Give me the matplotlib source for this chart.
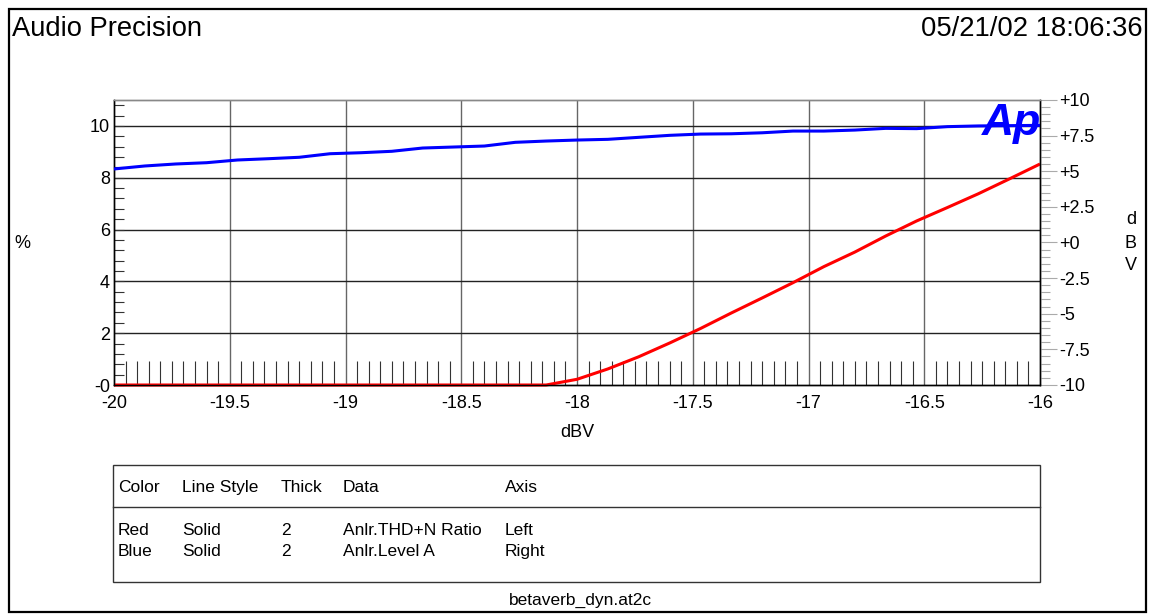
import matplotlib
matplotlib.use("Agg")
import matplotlib.pyplot as plt
from matplotlib.ticker import MultipleLocator, FixedLocator
from matplotlib.patches import Rectangle
from matplotlib.lines import Line2D

plt.rcParams['font.family'] = ['Liberation Sans', 'DejaVu Sans']

# ---- data ----
sweep_dbv = [-20.0, -19.8667, -19.7333, -19.6, -19.4667, -19.3333, -19.2, -19.0667,
             -18.9333, -18.8, -18.6667, -18.5333, -18.4, -18.2667, -18.1333, -18.0,
             -17.8667, -17.7333, -17.6, -17.4667, -17.3333, -17.2, -17.0667, -16.9333,
             -16.8, -16.6667, -16.5333, -16.4, -16.2667, -16.1333, -16.0]
thdn_pct = [0, 0, 0, 0, 0, 0, 0, 0, 0, 0, 0, 0, 0, 0, 0, 0.22,
            0.62, 1.09, 1.62, 2.18, 2.78, 3.36, 3.95, 4.57, 5.13, 5.75, 6.33, 6.85,
            7.38, 7.95, 8.53]
level_dbv = [5.16, 5.37, 5.51, 5.60, 5.79, 5.88, 5.98, 6.23, 6.30, 6.40, 6.63, 6.70,
             6.77, 7.03, 7.12, 7.19, 7.24, 7.38, 7.52, 7.61, 7.63, 7.70, 7.82, 7.82,
             7.89, 8.01, 7.99, 8.13, 8.18, 8.20, 8.22]

x_ticks = [-20, -19.5, -19, -18.5, -18, -17.5, -17, -16.5, -16]
x_labels = ["-20", "-19.5", "-19", "-18.5", "-18", "-17.5", "-17", "-16.5", "-16"]
left_ticks = [0, 2, 4, 6, 8, 10]
left_labels = ["-0", "2", "4", "6", "8", "10"]
right_ticks = [-10, -7.5, -5, -2.5, 0, 2.5, 5, 7.5, 10]
right_labels = ["-10", "-7.5", "-5", "-2.5", "+0", "+2.5", "+5", "+7.5", "+10"]

legend_header = ["Color", "Line Style", "Thick", "Data", "Axis"]
legend_rows = [["Red", "Solid", "2", "Anlr.THD+N Ratio", "Left"],
               ["Blue", "Solid", "2", "Anlr.Level A", "Right"]]

W, H = 1149, 614
fig = plt.figure(figsize=(W / 100, H / 100), dpi=100)

def fx(px):
    return px / W

def fy(py):
    return 1 - py / H

TICK_FS = 13
TXT_FS = 12.5

L, R, T, B = 114, 1040, 100, 385
ax = fig.add_axes([fx(L), fy(B), fx(R) - fx(L), fy(T) - fy(B)])
ax2 = ax.twinx()

ax.set_xlim(-20, -16)
ax.set_ylim(0, 11)
ax2.set_ylim(-10, 10)

# grid
for xv in x_ticks[1:-1]:
    ax.axvline(xv, color='#666666', lw=1.0, zorder=1)
for yv in left_ticks[1:]:
    ax.axhline(yv, color='#222222', lw=1.0, zorder=1)

# ticks - x
ax.xaxis.set_major_locator(FixedLocator(x_ticks))
ax.set_xticklabels(x_labels)
ax.xaxis.set_minor_locator(MultipleLocator(0.05))
ax.tick_params(axis='x', which='major', length=0, pad=7, labelsize=TICK_FS)
ax.tick_params(axis='x', which='minor', direction='in', length=17.5, width=0.8, color='#333333')
ax.tick_params(axis='x', top=False, which='both')

# ticks - left y
ax.yaxis.set_major_locator(FixedLocator(left_ticks))
ax.set_yticklabels(left_labels)
ax.yaxis.set_minor_locator(MultipleLocator(0.4))
ax.tick_params(axis='y', which='both', direction='in', length=7, width=0.8,
               color='#333333', pad=3, labelsize=TICK_FS)
ax.tick_params(axis='y', right=False, which='both')

# ticks - right y
ax2.yaxis.set_major_locator(FixedLocator(right_ticks))
ax2.set_yticklabels(right_labels)
ax2.yaxis.set_minor_locator(MultipleLocator(0.5))
ax2.tick_params(axis='y', which='major', direction='out', length=12, width=0.8,
                color='#aaaaaa', pad=2, labelsize=TICK_FS)
ax2.tick_params(axis='y', which='minor', direction='out', length=7, width=0.8,
                color='#aaaaaa')

for a in (ax, ax2):
    a.spines['top'].set_color('#888888')
    a.spines['bottom'].set_color('black')
    a.spines['left'].set_color('black')
    a.spines['right'].set_color('black')
    for s in a.spines.values():
        s.set_linewidth(1.0)

# data lines
ax.plot(sweep_dbv, thdn_pct, color='#ff0000', lw=2.2, zorder=5, clip_on=False,
        solid_capstyle='butt')
ax2.plot(sweep_dbv, level_dbv, color='#0000ff', lw=2.2, zorder=5, clip_on=False,
         solid_capstyle='butt')

# axis labels
ax.set_xlabel("dBV", fontsize=TICK_FS, labelpad=9)
fig.text(fx(22), fy(243), "%", fontsize=TICK_FS, ha='center', va='center')
for i, ch in enumerate("dBV"):
    fig.text(fx(1131), fy(220 + i * 23), ch, fontsize=TICK_FS, ha='center', va='center')

# Ap logo
fig.text(fx(1012), fy(123), "Ap", fontsize=32, fontweight='bold', style='italic',
         color='#0000ff', ha='center', va='center', zorder=10)

# title and date
fig.text(fx(12), fy(36), "Audio Precision", fontsize=19.7, ha='left', va='baseline')
fig.text(fx(1143), fy(36), "05/21/02 18:06:36", fontsize=19.7, ha='right', va='baseline')

# outer border
fig.add_artist(Rectangle((fx(9), fy(612)), fx(1146) - fx(9), fy(9) - fy(612),
                         transform=fig.transFigure, fill=False, lw=1.6, ec='black'))

# legend table
fig.add_artist(Rectangle((fx(113), fy(582)), fx(1040) - fx(113), fy(465) - fy(582),
                         transform=fig.transFigure, fill=False, lw=1.0, ec='#333333'))
fig.add_artist(Line2D([fx(113), fx(1040)], [fy(507), fy(507)],
                      transform=fig.transFigure, lw=1.0, color='#333333'))
col_x = [118, 182, 281, 343, 505]
for cx, txt in zip(col_x, legend_header):
    fig.text(fx(cx), fy(492), txt, fontsize=TXT_FS, ha='left', va='baseline')
for ry, row in zip([535, 556], legend_rows):
    for cx, txt in zip(col_x, row):
        fig.text(fx(cx), fy(ry), txt, fontsize=TXT_FS, ha='left', va='baseline')

fig.text(fx(580), fy(605), "betaverb_dyn.at2c", fontsize=TXT_FS, ha='center', va='baseline')

fig.savefig("out.png", dpi=100)
